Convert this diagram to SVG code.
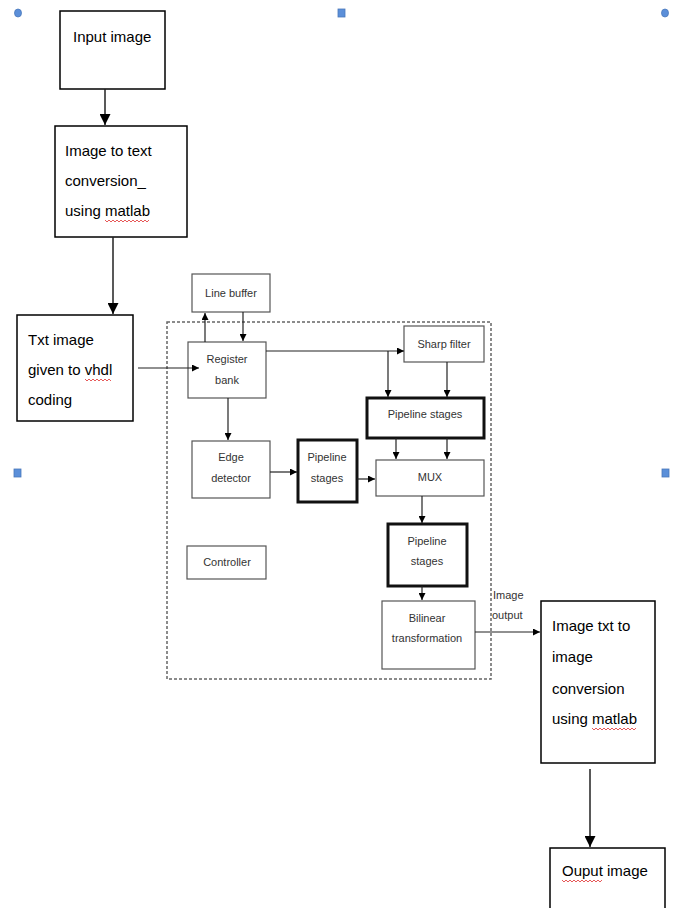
<svg xmlns="http://www.w3.org/2000/svg" width="673" height="908" viewBox="0 0 673 908">
<style>
.box{fill:#fff;stroke:#000;stroke-width:1.5}
.blk{fill:#fff;stroke:#555;stroke-width:1.2}
.thk{fill:#fff;stroke:#111;stroke-width:3}
.t{font-family:"Liberation Sans",Arial,sans-serif;font-size:15px;fill:#000}
.s{font-family:"Liberation Sans",Arial,sans-serif;font-size:11px;fill:#333;text-anchor:middle}
.c{fill:none;stroke:#222;stroke-width:1.2}
.cm{fill:none;stroke:#222;stroke-width:1.5}
.sq{fill:none;stroke:#e03030;stroke-width:0.8}
.h{fill:#5b8fd9;stroke:#4a78bb;stroke-width:0.8}
</style>
<defs>
<marker id="a" viewBox="0 0 10 10" refX="10" refY="5" markerWidth="7" markerHeight="7" orient="auto" markerUnits="userSpaceOnUse"><path d="M0,0L10,5L0,10z" fill="#000"/></marker>
<marker id="b" viewBox="0 0 10 10" refX="10" refY="5" markerWidth="11" markerHeight="11" orient="auto" markerUnits="userSpaceOnUse"><path d="M0,0L10,5L0,10z" fill="#000"/></marker>
</defs>
<rect width="673" height="908" fill="#fff"/>
<g id="handles">
<ellipse class="h" cx="18" cy="13" rx="3.5" ry="4"/>
<rect class="h" x="338" y="9" width="7" height="8"/>
<ellipse class="h" cx="665" cy="13" rx="3.5" ry="4"/>
<rect class="h" x="14" y="469" width="7" height="8"/>
<rect class="h" x="662" y="469" width="7" height="8"/>
</g>
<g id="container"><rect x="167" y="322" width="324" height="357" fill="none" stroke="#666" stroke-width="1.5" stroke-dasharray="3,2"/></g>
<g id="input-image"><rect class="box" x="60" y="11" width="105" height="78"/><text class="t" x="73" y="42">Input image</text></g>
<g id="image-to-text"><rect class="box" x="55" y="126" width="132" height="111"/>
<text class="t" x="65" y="156">Image to text</text><text class="t" x="65" y="186">conversion_</text><text class="t" x="65" y="216">using matlab</text>
<path class="sq" d="M105,220 l2,2 l2,-2 l2,2 l2,-2 l2,2 l2,-2 l2,2 l2,-2 l2,2 l2,-2 l2,2 l2,-2 l2,2 l2,-2 l2,2 l2,-2 l2,2 l2,-2 l2,2 l2,-2 l2,2 l2,-2"/></g>
<g id="txt-image"><rect class="box" x="17" y="315" width="116" height="106"/>
<text class="t" x="28" y="345">Txt image</text><text class="t" x="28" y="375">given to vhdl</text><text class="t" x="28" y="405">coding</text>
<path class="sq" d="M85,379 l2,2 l2,-2 l2,2 l2,-2 l2,2 l2,-2 l2,2 l2,-2 l2,2 l2,-2 l2,2 l2,-2 l2,2"/></g>
<g id="line-buffer"><rect class="blk" x="192" y="274" width="78" height="38"/><text class="s" x="231" y="297">Line buffer</text></g>
<g id="register-bank"><rect class="blk" x="188" y="342" width="78" height="56"/><text class="s" x="227" y="363">Register</text><text class="s" x="227" y="384">bank</text></g>
<g id="sharp-filter"><rect class="blk" x="404" y="326" width="80" height="36"/><text class="s" x="444" y="348">Sharp filter</text></g>
<g id="pipeline-stages-1"><rect class="thk" x="367" y="398" width="117" height="40"/><text class="s" x="425" y="418">Pipeline stages</text></g>
<g id="mux"><rect class="blk" x="376" y="460" width="108" height="36"/><text class="s" x="430" y="481">MUX</text></g>
<g id="edge-detector"><rect class="blk" x="192" y="441" width="78" height="57"/><text class="s" x="231" y="461">Edge</text><text class="s" x="231" y="482">detector</text></g>
<g id="pipeline-stages-2"><rect class="thk" x="298" y="440" width="59" height="62"/><text class="s" x="327" y="461">Pipeline</text><text class="s" x="327" y="482">stages</text></g>
<g id="pipeline-stages-3"><rect class="thk" x="388" y="524" width="79" height="62"/><text class="s" x="427" y="545">Pipeline</text><text class="s" x="427" y="565">stages</text></g>
<g id="bilinear"><rect class="blk" x="382" y="601" width="93" height="68"/><text class="s" x="427" y="622">Bilinear</text><text class="s" x="427" y="642">transformation</text></g>
<g id="controller"><rect class="blk" x="187" y="546" width="79" height="33"/><text class="s" x="227" y="566">Controller</text></g>
<g id="image-txt-to-image"><rect class="box" x="541" y="601" width="114" height="162"/>
<text class="t" x="552" y="631">Image txt to</text><text class="t" x="552" y="662">image</text><text class="t" x="552" y="694">conversion</text><text class="t" x="552" y="724">using matlab</text>
<path class="sq" d="M592,728 l2,2 l2,-2 l2,2 l2,-2 l2,2 l2,-2 l2,2 l2,-2 l2,2 l2,-2 l2,2 l2,-2 l2,2 l2,-2 l2,2 l2,-2 l2,2 l2,-2 l2,2 l2,-2 l2,2 l2,-2"/></g>
<g id="output-image"><rect class="box" x="550" y="848" width="115" height="70"/><text class="t" x="562" y="876">Ouput image</text>
<path class="sq" d="M562,880 l2,2 l2,-2 l2,2 l2,-2 l2,2 l2,-2 l2,2 l2,-2 l2,2 l2,-2 l2,2 l2,-2 l2,2 l2,-2 l2,2 l2,-2 l2,2 l2,-2 l2,2 l2,-2"/></g>
<g id="connectors">
<line class="cm" x1="105" y1="89" x2="105" y2="125" marker-end="url(#b)"/>
<line class="cm" x1="113" y1="237" x2="113" y2="314" marker-end="url(#b)"/>
<line class="c" x1="138" y1="368" x2="199" y2="368" marker-end="url(#a)"/>
<line class="c" x1="205" y1="342" x2="205" y2="313" marker-end="url(#a)"/>
<line class="c" x1="243" y1="312" x2="243" y2="341" marker-end="url(#a)"/>
<line class="c" x1="266" y1="351" x2="404" y2="351" marker-end="url(#a)"/>
<line class="c" x1="388" y1="351" x2="388" y2="397" marker-end="url(#a)"/>
<line class="c" x1="447" y1="362" x2="447" y2="397" marker-end="url(#a)"/>
<line class="c" x1="396" y1="438" x2="396" y2="459" marker-end="url(#a)"/>
<line class="c" x1="447" y1="438" x2="447" y2="459" marker-end="url(#a)"/>
<line class="c" x1="228" y1="398" x2="228" y2="440" marker-end="url(#a)"/>
<line class="c" x1="270" y1="472" x2="297" y2="472" marker-end="url(#a)"/>
<line class="c" x1="357" y1="479" x2="375" y2="479" marker-end="url(#a)"/>
<line class="c" x1="422" y1="496" x2="422" y2="523" marker-end="url(#a)"/>
<line class="c" x1="422" y1="586" x2="422" y2="600" marker-end="url(#a)"/>
<line class="c" x1="475" y1="632" x2="540" y2="632" marker-end="url(#a)"/>
<line class="cm" x1="590" y1="769" x2="590" y2="847" marker-end="url(#b)"/>
<text class="s" x="493" y="599" style="text-anchor:start">Image</text>
<text class="s" x="492" y="619" style="text-anchor:start">output</text>
</g>
</svg>
